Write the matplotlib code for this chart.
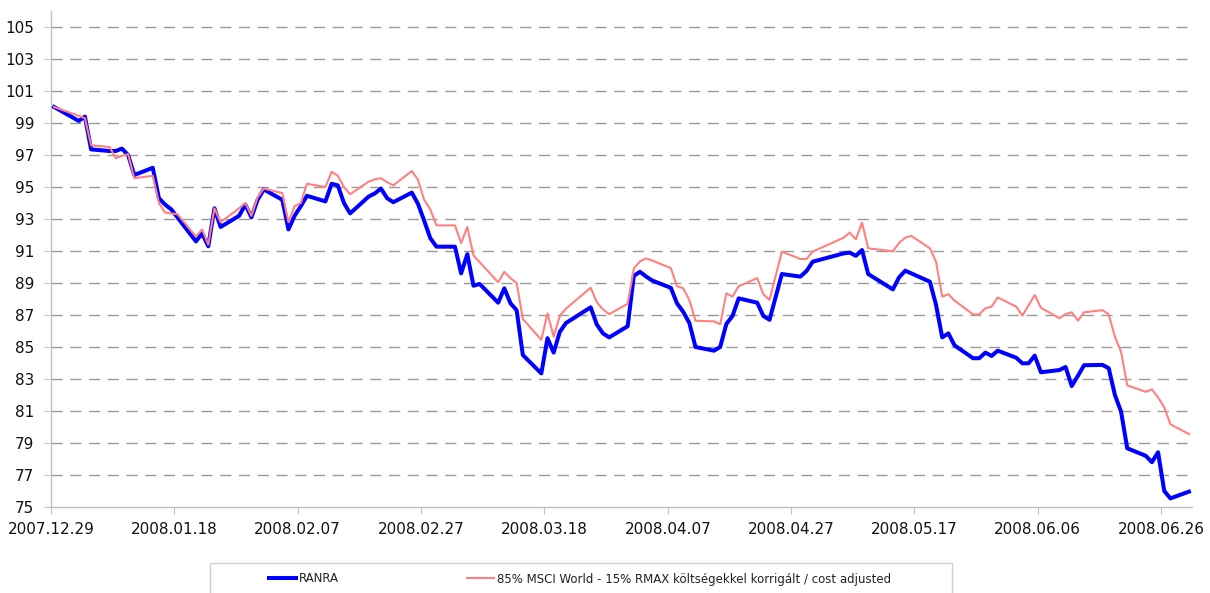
import matplotlib
matplotlib.use("Agg")
import matplotlib.pyplot as plt
import matplotlib.patches as mpatches
import pandas as pd

dates = [
    "2007-12-29", "2008-01-02", "2008-01-03", "2008-01-04", "2008-01-07", "2008-01-08",
    "2008-01-09", "2008-01-10", "2008-01-11", "2008-01-14", "2008-01-15", "2008-01-16",
    "2008-01-17", "2008-01-18", "2008-01-21", "2008-01-22", "2008-01-23", "2008-01-24",
    "2008-01-25", "2008-01-28", "2008-01-29", "2008-01-30", "2008-01-31", "2008-02-01",
    "2008-02-04", "2008-02-05", "2008-02-06", "2008-02-07", "2008-02-08", "2008-02-11",
    "2008-02-12", "2008-02-13", "2008-02-14", "2008-02-15", "2008-02-18", "2008-02-19",
    "2008-02-20", "2008-02-21", "2008-02-22", "2008-02-25", "2008-02-26", "2008-02-27",
    "2008-02-28", "2008-02-29", "2008-03-03", "2008-03-04", "2008-03-05", "2008-03-06",
    "2008-03-07", "2008-03-10", "2008-03-11", "2008-03-12", "2008-03-13", "2008-03-14",
    "2008-03-17", "2008-03-18", "2008-03-19", "2008-03-20", "2008-03-21", "2008-03-25",
    "2008-03-26", "2008-03-27", "2008-03-28", "2008-03-31", "2008-04-01", "2008-04-02",
    "2008-04-03", "2008-04-04", "2008-04-07", "2008-04-08", "2008-04-09", "2008-04-10",
    "2008-04-11", "2008-04-14", "2008-04-15", "2008-04-16", "2008-04-17", "2008-04-18",
    "2008-04-21", "2008-04-22", "2008-04-23", "2008-04-25", "2008-04-28", "2008-04-29",
    "2008-04-30", "2008-05-05", "2008-05-06", "2008-05-07", "2008-05-08", "2008-05-09",
    "2008-05-13", "2008-05-14", "2008-05-15", "2008-05-16", "2008-05-19", "2008-05-20",
    "2008-05-21", "2008-05-22", "2008-05-23", "2008-05-26", "2008-05-27", "2008-05-28",
    "2008-05-29", "2008-05-30", "2008-06-02", "2008-06-03", "2008-06-04", "2008-06-05",
    "2008-06-06", "2008-06-09", "2008-06-10", "2008-06-11", "2008-06-12", "2008-06-13",
    "2008-06-16", "2008-06-17", "2008-06-18", "2008-06-19", "2008-06-20", "2008-06-23",
    "2008-06-24", "2008-06-25", "2008-06-26", "2008-06-27", "2008-06-30",
]

ranra = [
    100.0, 99.13, 99.4, 97.35, 97.25, 97.25,
    97.4, 97.0, 95.75, 96.2, 94.3, 93.9,
    93.6, 93.1, 91.6, 92.1, 91.3, 93.67,
    92.5, 93.2, 93.9, 93.1, 94.2, 94.85,
    94.2, 92.35, 93.2, 93.8, 94.45, 94.1,
    95.2, 95.1, 94.0, 93.35, 94.4, 94.6,
    94.9, 94.3, 94.05, 94.65, 93.95, 92.9,
    91.8, 91.27, 91.27, 89.6, 90.8, 88.83,
    88.94, 87.77, 88.67, 87.73, 87.3, 84.5,
    83.35, 85.55, 84.65, 85.95, 86.5, 87.48,
    86.4, 85.85, 85.6, 86.3, 89.45, 89.7,
    89.4, 89.15, 88.7, 87.73, 87.2, 86.5,
    85.0, 84.77, 85.0, 86.44, 86.94, 88.04,
    87.77, 86.94, 86.7, 89.56, 89.4, 89.75,
    90.33, 90.85, 90.9, 90.7, 91.06, 89.56,
    88.6, 89.35, 89.77, 89.6, 89.08, 87.63,
    85.6, 85.85, 85.1, 84.3, 84.3, 84.65,
    84.44, 84.77, 84.33, 83.98, 83.98, 84.46,
    83.42, 83.56, 83.75, 82.56, 83.2, 83.86,
    83.88, 83.67, 82.0, 80.96, 78.67, 78.2,
    77.8, 78.42, 76.0, 75.54, 75.96,
]

benchmark = [
    100.0, 99.45, 99.3, 97.6, 97.5, 96.8,
    96.95, 97.05, 95.55, 95.7, 94.0, 93.4,
    93.35, 93.3, 91.9, 92.35, 91.4, 93.67,
    92.8, 93.67, 94.0, 93.2, 94.35, 94.9,
    94.62, 92.8, 93.8, 94.0, 95.2, 95.0,
    95.95, 95.7, 95.0, 94.55, 95.33, 95.48,
    95.55, 95.3, 95.1, 96.0, 95.45, 94.2,
    93.6, 92.6, 92.6, 91.5, 92.5, 90.72,
    90.3, 89.05, 89.7, 89.3, 89.0, 86.75,
    85.45, 87.1, 85.65, 86.95, 87.4, 88.7,
    87.8, 87.35, 87.05, 87.7, 89.9, 90.35,
    90.54, 90.4, 89.93, 88.8, 88.67, 87.94,
    86.64, 86.6, 86.42, 88.35, 88.15, 88.8,
    89.3, 88.3, 87.94, 90.96, 90.5, 90.5,
    90.96, 91.83, 92.15, 91.73, 92.77, 91.17,
    90.98, 91.5, 91.83, 91.94, 91.17, 90.33,
    88.15, 88.3, 87.9, 87.04, 87.04, 87.42,
    87.52, 88.1, 87.52, 86.96, 87.6, 88.25,
    87.45, 86.8, 87.05, 87.17, 86.65, 87.17,
    87.3, 87.04, 85.64, 84.7, 82.6, 82.2,
    82.35, 81.85, 81.23, 80.17, 79.56,
]

x_ticks = ["2007-12-29", "2008-01-18", "2008-02-07", "2008-02-27", "2008-03-18",
           "2008-04-07", "2008-04-27", "2008-05-17", "2008-06-06", "2008-06-26"]
y_ticks = list(range(75, 106, 2))

series_names = ["RANRA", "85% MSCI World - 15% RMAX költségekkel korrigált / cost adjusted"]

plt.rcParams["font.family"] = ["DejaVu Sans"]
plt.rcParams["lines.scale_dashes"] = False

W, H = 1210, 593
fig = plt.figure(figsize=(W / 100, H / 100), dpi=100)
ax = fig.add_axes([51 / W, 1 - 507 / H, (1192 - 51) / W, (507 - 11) / H])

# Excel-like date axis: ticks at day boundaries, points at day centres
half = pd.Timedelta(hours=12)
d = pd.to_datetime(dates)
ax.plot(d, ranra, color="#0000FF", lw=2.9, zorder=3, label=series_names[0])
ax.plot(d, benchmark, color="#FF8080", lw=1.5, zorder=4, label=series_names[1])

ax.set_xlim(pd.Timestamp("2007-12-29") - half, pd.Timestamp("2008-07-01") - half)
ax.set_ylim(75, 106)
ax.set_yticks(y_ticks)
ax.set_yticklabels([str(v) for v in y_ticks])
xt = pd.to_datetime(x_ticks)
ax.set_xticks(xt - half)
ax.set_xticklabels([t.strftime("%Y.%m.%d") for t in xt])

for v in y_ticks:
    if v == 75:
        continue
    ax.axhline(v, color="#999999", lw=1.0, linestyle=(0, (8, 5.5)), zorder=1)

for s in ["top", "right"]:
    ax.spines[s].set_visible(False)
for s in ["left", "bottom"]:
    ax.spines[s].set_color("#c0c0c0")
    ax.spines[s].set_linewidth(1.0)

ax.tick_params(axis="y", length=5, color="#c0c0c0", pad=7, labelsize=11, labelcolor="#111111")
ax.tick_params(axis="x", length=5, color="#c0c0c0", pad=6, labelsize=11, labelcolor="#111111")

# legend box
rect = mpatches.Rectangle((210 / W, -0.05), (952 - 210) / W, (593 - 563) / H + 0.05,
                          transform=fig.transFigure, fill=False, edgecolor="#d0d0d0",
                          lw=1.0, clip_on=False)
fig.patches.append(rect)
leg = fig.legend(loc="center left", bbox_to_anchor=(269 / W, 1 - 579 / H), ncol=2,
                 frameon=False, fontsize=8.5, handlelength=2.3, handletextpad=0.25,
                 columnspacing=10.85, borderpad=0, borderaxespad=0)
for t in leg.get_texts():
    t.set_color("#222222")

fig.savefig("out.png", dpi=100)
